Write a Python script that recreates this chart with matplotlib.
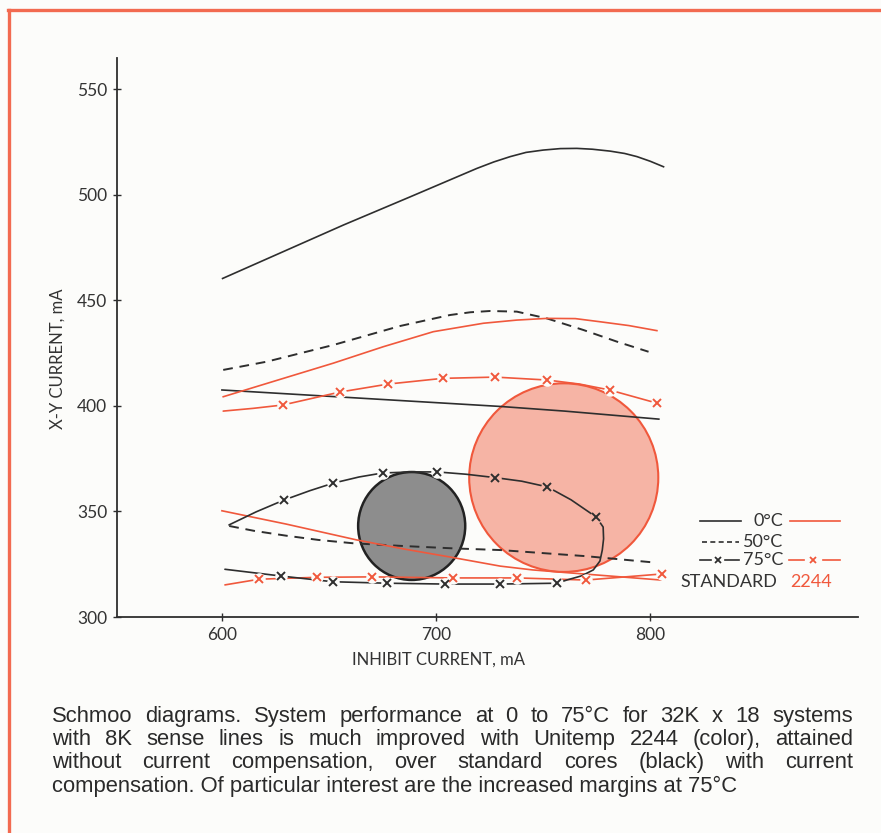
import matplotlib
matplotlib.use("Agg")
import matplotlib.pyplot as plt
from matplotlib.patches import Ellipse
from matplotlib.lines import Line2D

# ---------------- data ----------------
x_ticks = [600, 700, 800]
y_ticks = [300, 350, 400, 450, 500, 550]

# Standard cores (black)
std0_hi_x = [600.3, 656.7, 688, 719, 727, 734.6, 742, 750, 758, 765.7, 773, 781.3, 788, 793.8, 800, 806.2]
std0_hi_y = [460.3, 485.6, 499, 512.4, 515.5, 518, 520, 521.1, 521.8, 521.9, 521.5, 520.6, 519.5, 518, 515.8, 513.2]
std0_lo_x = [600, 650, 700, 730, 760, 804]
std0_lo_y = [407.5, 404.5, 401.5, 399.7, 397.5, 393.7]
std50_hi_x = [600.6, 620.9, 652, 683.2, 706.5, 716, 725.2, 737.7, 751.7, 768.8, 784.4, 799.2]
std50_hi_y = [417, 420.9, 428.8, 437.8, 443, 444.3, 444.9, 444.6, 441.4, 435.9, 430.4, 425.6]
std50_lo_x = [603.4, 615, 630, 645, 661.4, 685, 708, 730, 770, 803]
std50_lo_y = [343.1, 340.8, 338.5, 336.5, 334.9, 333.6, 332.5, 331.7, 328.8, 325.7]
std75_x = [601.4, 627.6, 651.7, 677, 704, 730, 756.5, 761, 768, 773.4, 776.5, 777.6, 778.2, 778,
           774.8, 763, 752, 740, 727.6, 714, 700.5, 689, 675, 664, 652, 641, 629, 616, 603.3]
std75_y = [322.6, 319.4, 316.7, 316, 315.6, 315.6, 316, 317.5, 319.5, 322.3, 326.5, 331.7, 337, 342.6,
           347.3, 355.5, 361.6, 364.3, 366, 367.6, 368.7, 368.7, 368.2, 366.3, 363.4, 359.8, 355.4, 349.8, 343.6]
std75_marks = [1, 2, 3, 4, 5, 6, 14, 16, 18, 20, 22, 24, 26]

# Unitemp 2244 (red)
u0_hi_x = [600.6, 628.7, 652, 675.4, 698.7, 722.1, 737.7, 751.7, 765, 776.6, 790, 803.1]
u0_hi_y = [404.3, 413, 420.2, 428, 435.1, 439.1, 440.6, 441.4, 441.3, 439.8, 438, 435.6]
u0_lo_x = [600, 630, 662.9, 685, 706.5, 729.9, 745, 761, 780, 805]
u0_lo_y = [350.3, 344, 336.5, 332.2, 328.4, 324.1, 322.3, 321, 319.5, 317.5]
u75_hi_x = [600.6, 614.6, 628.5, 655, 677.6, 703, 727.6, 752, 767, 781, 803]
u75_hi_y = [397.5, 398.8, 400.4, 406.5, 410.3, 413, 413.6, 412.2, 410.3, 407.5, 401.3]
u75_hi_marks = [2, 3, 4, 5, 6, 7, 9, 10]
u75_lo_x = [601.4, 617.4, 644.5, 670, 708, 738, 770, 805.6]
u75_lo_y = [315.2, 317.9, 318.8, 319, 318.5, 318.5, 317.5, 320.4]
u75_lo_marks = [1, 2, 3, 4, 5, 6, 7]

# shaded operating regions: (centre x, centre y, width, height) in mA
std_circle = (688.6, 343.1, 50.0, 51.1)
u_circle = (759.6, 366.0, 88.3, 89.3)

legend_temps = ["0°C", "50°C", "75°C"]
legend_names = ["STANDARD", "2244"]

caption_lines = [
    "Schmoo diagrams. System performance at 0 to 75°C for 32K x 18 systems",
    "with 8K sense lines is much improved with Unitemp 2244 (color), attained",
    "without current compensation, over standard cores (black) with current",
    "compensation. Of particular interest are the increased margins at 75°C",
]

# ---------------- style ----------------
RED = "#f0583c"
BLK = "#2e2e2e"
BG = "#fcfcfa"
GREYFILL = "#8d8d8d"
PINKFILL = "#f6b4a5"
TICKFONT = ["Lato", "DejaVu Sans"]
CAPFONT = ["Liberation Sans", "DejaVu Sans"]

W, H = 881, 833
fig = plt.figure(figsize=(W / 100, H / 100), dpi=100, facecolor=BG)

# axes box from reference pixels
L, R, T, B = 117, 858, 58, 617
ax = fig.add_axes([L / W, 1 - B / H, (R - L) / W, (B - T) / H])
ax.set_facecolor(BG)
ax.set_xlim(551, 897)
ax.set_ylim(300, 564.7)
for s in ["top", "right"]:
    ax.spines[s].set_visible(False)
for s in ["left", "bottom"]:
    ax.spines[s].set_color(BLK)
    ax.spines[s].set_linewidth(1.3)

ax.set_xticks(x_ticks)
ax.set_yticks(y_ticks)
ax.tick_params(direction="inout", length=6, width=1.0, color=BLK, labelcolor="#333333",
               labelsize=12.5, pad=4)
for lab in ax.get_xticklabels() + ax.get_yticklabels():
    lab.set_family(TICKFONT)
ax.set_xlabel("INHIBIT CURRENT, mA", family=TICKFONT, fontsize=12, color="#333333")
ax.set_ylabel("X-Y CURRENT, mA", family=TICKFONT, fontsize=12, color="#333333")
ax.xaxis.set_label_coords((438 - L) / (R - L), (B - 660) / (B - T))
ax.yaxis.set_label_coords((58 - L) / (R - L), (B - 359) / (B - T))
ax.xaxis.label.set_va("center")
ax.yaxis.label.set_va("center")

# circles
circles = [(std_circle, GREYFILL, "#222222", 1.8), (u_circle, PINKFILL, RED, 1.5)]
for (cx, cy, w, h), fc, ec, lw in circles:
    ax.add_patch(Ellipse((cx, cy), w, h, facecolor=fc, edgecolor=ec, lw=lw, zorder=1))

LW = 1.2


def under_color(x, y):
    col = BG
    for (cx, cy, w, h), fc, ec, lw in circles:
        if ((x - cx) / (w / 2)) ** 2 + ((y - cy) / (h / 2)) ** 2 < 1:
            col = fc
    return col


def xline(x, y, color, marks, lw=LW):
    ax.plot(x, y, color=color, lw=lw, zorder=3, solid_capstyle="round")
    for i in marks:
        ax.plot([x[i]], [y[i]], linestyle="none", marker="o", markersize=9,
                markerfacecolor=under_color(x[i], y[i]), markeredgecolor="none", zorder=4)
    ax.plot([x[i] for i in marks], [y[i] for i in marks], linestyle="none", marker="x",
            markersize=5.5, markeredgewidth=1.4, color=color, zorder=5)


ax.plot(std0_hi_x, std0_hi_y, color=BLK, lw=LW, zorder=3)
ax.plot(std0_lo_x, std0_lo_y, color=BLK, lw=LW, zorder=3)
ax.plot(std50_hi_x, std50_hi_y, color=BLK, lw=LW + 0.2, ls=(0, (5, 3.5)), zorder=3)
ax.plot(std50_lo_x, std50_lo_y, color=BLK, lw=LW + 0.2, ls=(0, (5, 3.5)), zorder=3)
ax.plot(u0_hi_x, u0_hi_y, color=RED, lw=LW, zorder=3)
ax.plot(u0_lo_x, u0_lo_y, color=RED, lw=LW, zorder=3)
xline(u75_hi_x, u75_hi_y, RED, u75_hi_marks)
xline(u75_lo_x, u75_lo_y, RED, u75_lo_marks)
xline(std75_x, std75_y, BLK, std75_marks)


# ---------------- legend (positions from reference pixels) ----------------
def pa(xp, yp):
    return ((xp - L) / (R - L), (B - yp) / (B - T))


def lseg(x0, x1, yp, color, **kw):
    a, b = pa(x0, yp), pa(x1, yp)
    ax.add_line(Line2D([a[0], b[0]], [a[1], b[1]], transform=ax.transAxes, color=color,
                       lw=LW, clip_on=False, **kw))


def lx(xp, yp, color):
    a = pa(xp, yp)
    ax.plot([a[0]], [a[1]], transform=ax.transAxes, marker="x", markersize=5,
            markeredgewidth=1.3, color=color, clip_on=False)


lt = dict(family=TICKFONT, fontsize=13, va="center", transform=ax.transAxes)
# row 0 deg
lseg(700, 741, 521, BLK)
ax.text(*pa(783, 521), legend_temps[0], ha="right", color="#333333", **lt)
lseg(790, 840, 521, RED)
# row 50 deg
lseg(702, 739, 542, BLK, ls=(0, (3, 2)))
ax.text(*pa(783, 542), legend_temps[1], ha="right", color="#333333", **lt)
# row 75 deg
lseg(700, 711, 560, BLK)
lx(718, 560, BLK)
lseg(725, 739, 560, BLK)
ax.text(*pa(783, 560), legend_temps[2], ha="right", color="#333333", **lt)
lseg(789, 804, 560, RED)
lx(813, 560, RED)
lseg(823, 840, 560, RED)
# names
ax.text(*pa(680, 582), legend_names[0], ha="left", color="#333333", **lt)
ax.text(*pa(790, 582), legend_names[1], ha="left", color=RED, **lt)

# ---------------- red frame ----------------
fr = dict(color="#f26a50", lw=2.4, transform=fig.transFigure, clip_on=False)
fig.add_artist(Line2D([9 / W, 9 / W], [0, 1 - 10 / H], **fr))
fig.add_artist(Line2D([8 / W, 1], [1 - 10 / H, 1 - 10 / H], **fr))

# ---------------- justified caption ----------------
renderer = fig.canvas.get_renderer()
x_left, x_right = 52, 853
line_base = [722, 745, 768, 792]
cap = dict(family=CAPFONT, fontsize=15.8, color="#2a2a2a", va="baseline", ha="left",
           transform=fig.transFigure)
for k, (line, yp) in enumerate(zip(caption_lines, line_base)):
    yf = 1 - yp / H
    if k == len(caption_lines) - 1:
        fig.text(x_left / W, yf, line, **cap)
        continue
    words = line.split()
    objs = [fig.text(0, yf, w, **cap) for w in words]
    widths = [o.get_window_extent(renderer).width for o in objs]
    gap = (x_right - x_left - sum(widths)) / (len(words) - 1)
    xp = x_left
    for o, w in zip(objs, widths):
        o.set_x(xp / W)
        xp += w + gap

fig.savefig("out.png", dpi=100, facecolor=BG)
